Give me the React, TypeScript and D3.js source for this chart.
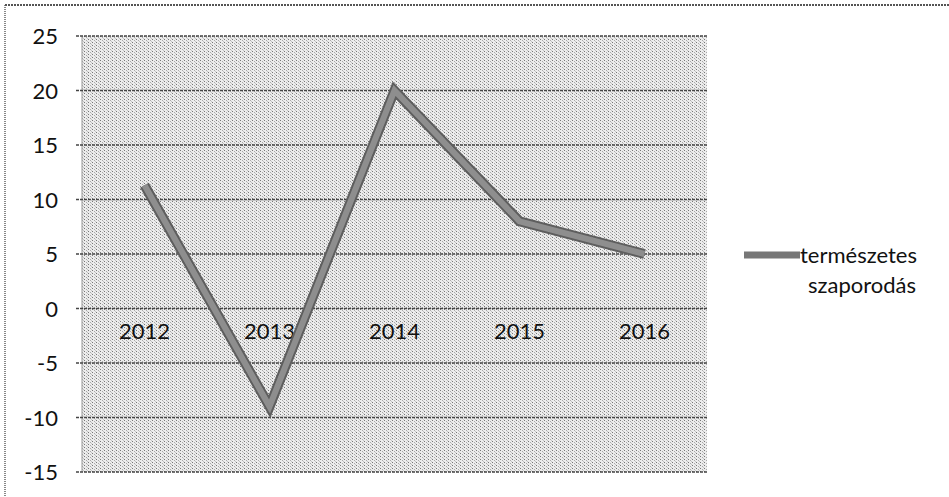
import React from "react";
import * as d3 from "d3";

const categories = ["2012", "2013", "2014", "2015", "2016"];
const values = [11.3, -9, 20, 8, 5];
const yTicks = [25, 20, 15, 10, 5, 0, -5, -10, -15];
const seriesName = ["természetes", "szaporodás"];

export default function App() {
  const W = 949, H = 497;
  const left = 82, right = 707, top = 36, bottom = 472;
  const x = d3.scaleBand<string>().domain(categories).range([left, right]);
  const y = d3.scaleLinear().domain([-15, 25]).range([bottom, top]);
  const line = d3
    .line<number>()
    .x((_, i) => (x(categories[i]) as number) + x.bandwidth() / 2)
    .y((d) => y(d));
  const font = "Lato, 'Open Sans', sans-serif";
  const fs = 22;
  return (
    <svg width={W} height={H} style={{ position: "absolute", left: 0, top: 0 }}>
      <defs>
        <pattern id="dots" width="4" height="3" patternUnits="userSpaceOnUse">
          <rect width="4" height="3" fill="#ececec" />
          <rect x="0" y="0" width="1" height="1" fill="#777" />
          <rect x="2" y="1" width="1" height="1" fill="#aaa" />
          <rect x="3" y="2" width="1" height="1" fill="#c4c4c4" />
        </pattern>
      </defs>
      <rect width={W} height={H} fill="#fff" />
      <line x1={5} y1={5} x2={5} y2={H} stroke="#888" strokeWidth={2} strokeDasharray="1 1" />
      <line x1={5} y1={5} x2={W} y2={5} stroke="#555" strokeWidth={2} strokeDasharray="2 1" />
      <rect x={left} y={top} width={right - left} height={bottom - top} fill="url(#dots)" />
      <line x1={left} y1={top} x2={left} y2={bottom} stroke="#999" strokeWidth={1} />
      {yTicks.map((t) => (
        <g key={t}>
          <line x1={left - 6} x2={right} y1={y(t)} y2={y(t)} stroke="#444" strokeWidth={1.6} strokeDasharray="3 1" />
          <text x={58} y={y(t) + 8} textAnchor="end" fontFamily={font} fontSize={fs} fill="#111">
            {t}
          </text>
        </g>
      ))}
      {categories.map((c) => (
        <text key={c} x={(x(c) as number) + x.bandwidth() / 2} y={y(0) + 30} textAnchor="middle" fontFamily={font} fontSize={fs} fill="#111">
          {c}
        </text>
      ))}
      <path d={line(values) || ""} fill="none" stroke="#5e5e5e" strokeWidth={10} strokeLinejoin="miter" />
      <path d={line(values) || ""} fill="none" stroke="#8e8e8e" strokeWidth={6} strokeLinejoin="miter" />
      <line x1={744} x2={800} y1={255} y2={255} stroke="#777" strokeWidth={7} />
      <text x={800} y={263} fontFamily={font} fontSize={fs} fill="#111">
        {seriesName[0]}
      </text>
      <text x={862} y={293} textAnchor="middle" fontFamily={font} fontSize={fs} fill="#111">
        {seriesName[1]}
      </text>
    </svg>
  );
}
